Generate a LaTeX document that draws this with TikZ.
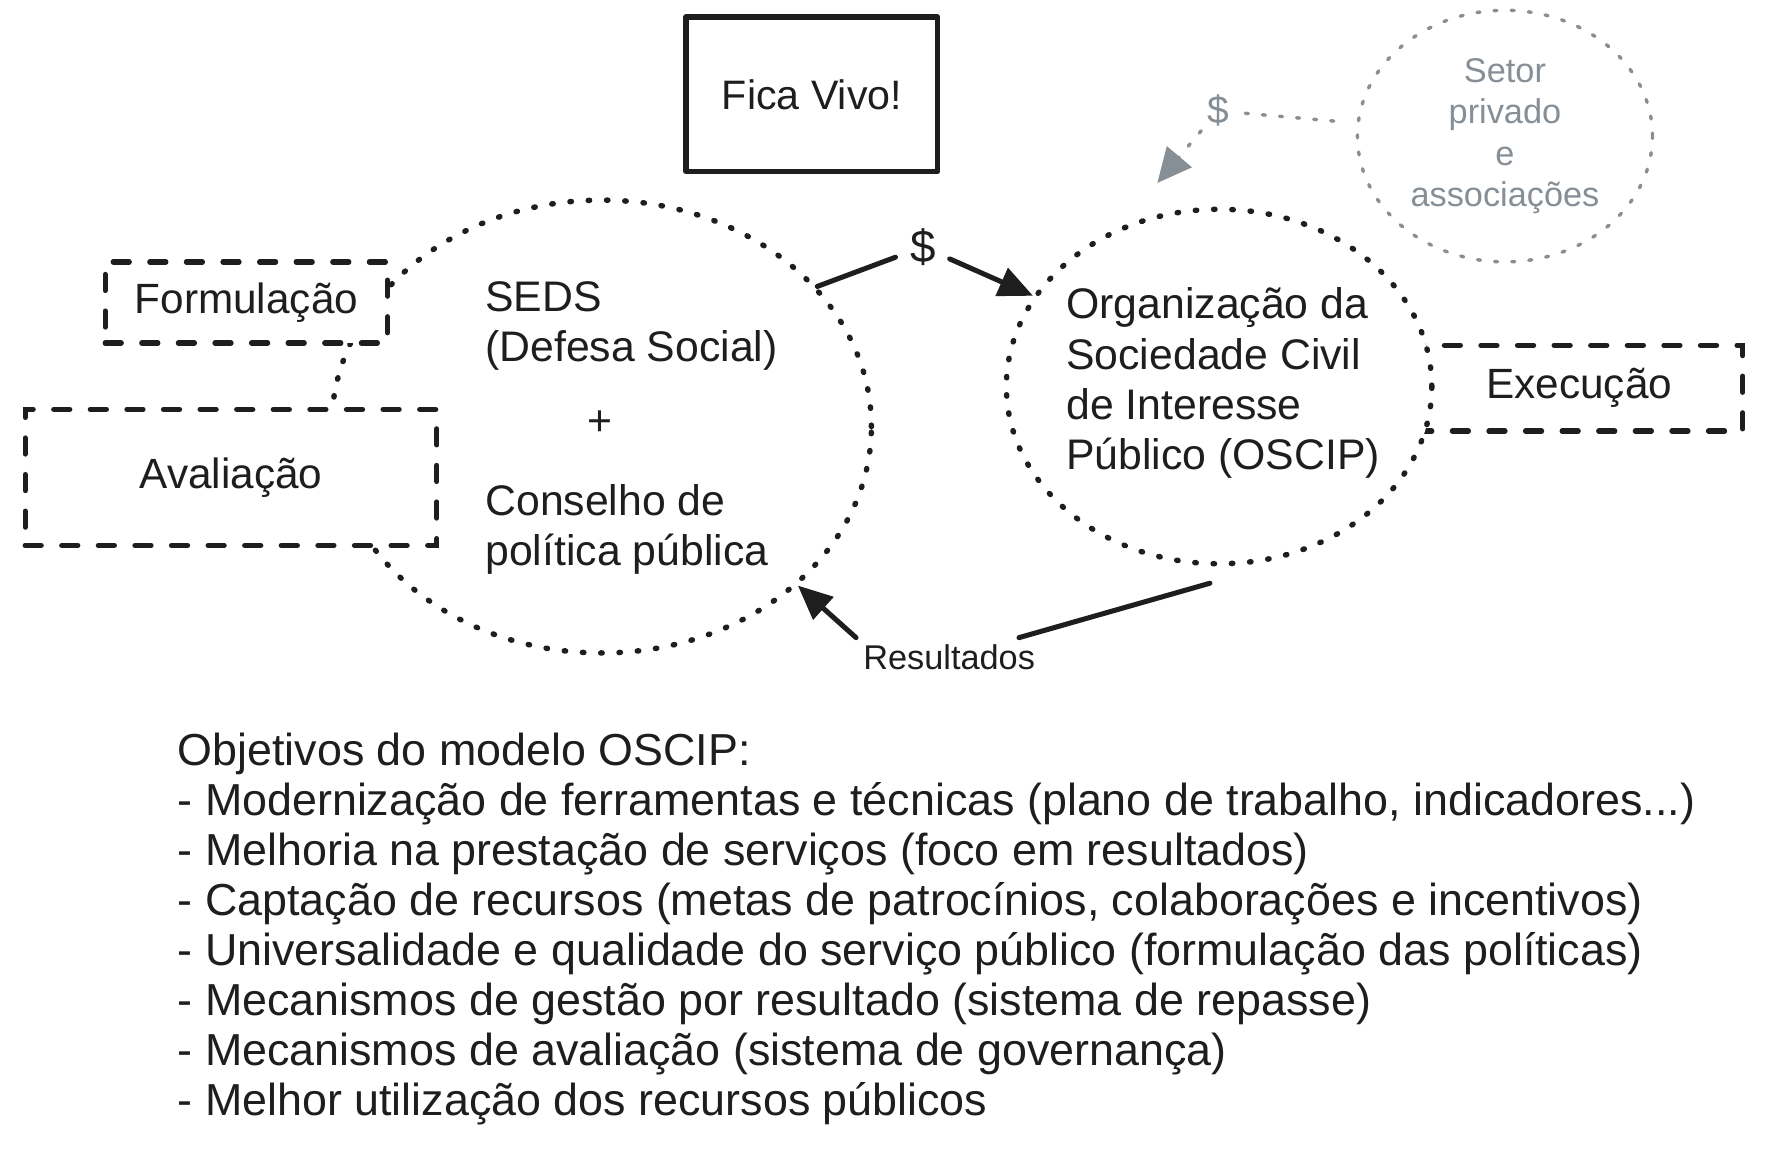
\documentclass[tikz,border=0pt]{standalone}
\usepackage{fontspec}
\setmainfont{Liberation Sans}
\usetikzlibrary{arrows.meta,shapes.geometric}
\definecolor{ink}{HTML}{1E1E1E}
\definecolor{greyink}{HTML}{868E96}
\tikzset{
  sketchbox/.style={rectangle, draw=ink, line width=2.3pt, dash pattern=on 7pt off 9pt, line cap=round, fill=white, inner sep=0pt, text=ink, font=\fontsize{18.5}{22}\selectfont},
  solidbox/.style={rectangle, draw=ink, line width=2.4pt, line join=round, inner sep=0pt, text=ink, font=\fontsize{18}{22}\selectfont},
  dotring/.style={ellipse, draw=ink, line width=2.4pt, dash pattern=on 0.6pt off 7.4pt, line cap=round, inner sep=0pt},
  greyring/.style={ellipse, draw=greyink, line width=1.5pt, dash pattern=on 1.3pt off 6.2pt, line cap=round, inner sep=0pt, text=greyink, align=center, font=\fontsize{15}{18}\selectfont},
  lbl/.style={font=\fontsize{18.7}{22}\selectfont, text=ink, inner sep=0pt},
  flow/.style={draw=ink, line width=2.2pt, line cap=round},
  flowtip/.style={-{Triangle[length=15pt,width=13pt]}},
  greyflow/.style={draw=greyink, line width=1.5pt, dash pattern=on 1.3pt off 6.2pt, line cap=round},
}
\begin{document}
\begin{tikzpicture}[x=0.5pt,y=-0.5pt]
\useasboundingbox (0,0) rectangle (1560,1020);

% SEDS ring (drawn first, boxes cover its left side)
\node (seds) [dotring, minimum width=236pt, minimum height=198pt] at (526,373) {};

% Formulacao / Avaliacao boxes
\node (form) [sketchbox, minimum width=123.5pt, minimum height=35.5pt] at (215.5,264.5) {Formulação};
\node (aval) [sketchbox, minimum width=180pt, minimum height=59.5pt] at (202,417.5) {Avaliação};

% Execucao box, partly hidden behind the OSCIP ring
\node (exec) [sketchbox, minimum width=143pt, minimum height=37.5pt] at (1381,339.5) {Execução};

% OSCIP ring
\node (oscip) [dotring, fill=white, minimum width=186pt, minimum height=155pt] at (1066,338) {};

% Setor privado ring
\node (setor) [greyring, minimum width=129pt, minimum height=110pt] at (1316,119) {Setor\\privado\\e\\associações};

% Fica Vivo box
\node (fica) [solidbox, minimum width=110pt, minimum height=67.5pt] at (710,82.5) {Fica Vivo!};

% texts inside rings
\node (sedsA) [lbl, anchor=west, align=left] at (424,285) {SEDS\\(Defesa Social)};
\node (plus) [lbl] at (525,370) {+};
\node (sedsB) [lbl, anchor=west, align=left] at (424,463) {Conselho de\\política pública};
\node (oscipTxt) [lbl, anchor=west, align=left] at (932,335) {Organização da\\Sociedade Civil\\de Interesse\\Público (OSCIP)};

% money flow SEDS -> OSCIP
\node (dollar) [lbl, circle, inner sep=2pt, font=\fontsize{20}{24}\selectfont] at (807,216) {\$};
\draw[flow] (seds.33.5) -- (dollar);
\draw[flow, flowtip] (dollar) -- (oscip.154.5);

% results OSCIP -> SEDS
\node (reslbl) [lbl, font=\fontsize{15}{18}\selectfont, inner sep=3pt] at (830,575) {Resultados};
\coordinate (resStart) at (1058,510);
\draw[flow] (resStart) -- (reslbl);
\draw[flow, flowtip] (reslbl.north west) -- (seds.-39);

% grey money flow from private sector
\node (gdollar) [circle, inner sep=2pt, text=greyink, font=\fontsize{17}{20}\selectfont] at (1065,97) {\$};
\coordinate (grayend) at (1012,160);
\draw[greyflow, shorten <=10pt] (setor) -- (gdollar);
\draw[greyflow, -{Triangle[length=15pt,width=14pt,fill=greyink]}] (gdollar) -- (grayend);

% objectives
\node (obj) [anchor=north west, align=left, inner sep=0pt, text=ink, font=\fontsize{19.6}{21.85}\selectfont] at (155,641) {Objetivos do modelo OSCIP:\\
- Modernização de ferramentas e técnicas (plano de trabalho, indicadores...)\\
- Melhoria na prestação de serviços (foco em resultados)\\
- Captação de recursos (metas de patrocínios, colaborações e incentivos)\\
- Universalidade e qualidade do serviço público (formulação das políticas)\\
- Mecanismos de gestão por resultado (sistema de repasse)\\
- Mecanismos de avaliação (sistema de governança)\\
- Melhor utilização dos recursos públicos};
\end{tikzpicture}
\end{document}
